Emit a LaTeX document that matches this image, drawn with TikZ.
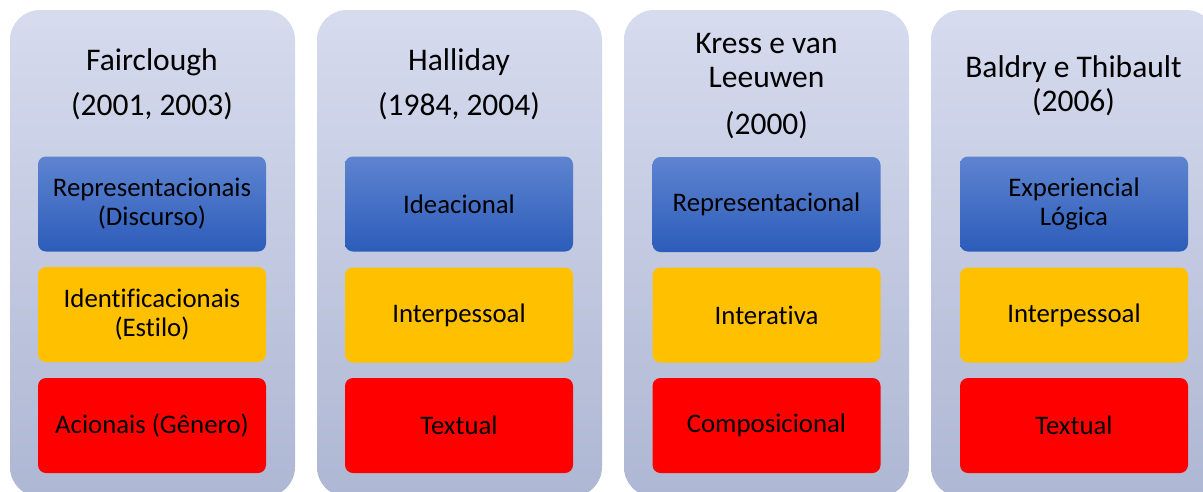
\documentclass[tikz,border=0pt]{standalone}
\usepackage{fontspec}
\setmainfont{Carlito}[Ligatures=NoCommon]
\definecolor{panelTop}{RGB}{214,219,238}
\definecolor{panelBot}{RGB}{174,183,211}
\definecolor{blueTop}{RGB}{94,132,208}
\definecolor{blueBot}{RGB}{44,92,186}
\definecolor{amber}{RGB}{255,192,0}
\definecolor{redbox}{RGB}{255,0,0}
\tikzset{
  panel/.style={rounded corners=30pt,top color=panelTop,bottom color=panelBot,
    minimum width=285pt,minimum height=487pt,inner sep=0pt},
  title/.style={anchor=base,inner sep=0pt,font=\fontsize{31.5}{34}\selectfont},
  layer/.style={rounded corners=8pt,minimum width=228pt,minimum height=95pt,
    inner sep=2pt,align=center,font=\fontsize{26.8}{29}\selectfont},
  ideal/.style={layer,top color=blueTop,bottom color=blueBot},
  inter/.style={layer,fill=amber},
  textl/.style={layer,fill=redbox}
}
\begin{document}
\begin{tikzpicture}[x=1pt,y=-1pt]
\useasboundingbox (0,0) rectangle (1203,491);
\begin{scope}
\clip (0,0) rectangle (1203,491);
\path
(152.5,253.5)  node[panel] (P1) {}
(459.5,253.5)  node[panel] (P2) {}
(766.5,253.5)  node[panel] (P3) {}
(1073.5,253.5) node[panel] (P4) {};
\end{scope}

% Fairclough
\path
(152,70)  node[title] (t1a) {Fairclough}
(152,115) node[title] (t1b) {(2001, 2003)}
(152,204)   node[ideal] (r1) {Representacionais\\(Discurso)}
(152,314.5) node[inter] (i1) {Identificacionais\\(Estilo)}
(152,425.5) node[textl] (a1) {Acionais (Gênero)};

% Halliday
\path
(459,70)  node[title] (t2a) {Halliday}
(459,115) node[title] (t2b) {(1984, 2004)}
(459,204)   node[ideal] (r2) {Ideacional}
(459,315) node[inter] (i2) {Interpessoal}
(459,425.5) node[textl] (a2) {Textual};

% Kress e van Leeuwen
\path
(766.5,53)  node[title] (t3a) {Kress e van}
(766.5,87)  node[title] (t3b) {Leeuwen}
(766.5,134) node[title] (t3c) {(2000)}
(766.5,204.5) node[ideal] (r3) {Representacional}
(766.5,315) node[inter] (i3) {Interativa}
(766.5,425.5) node[textl] (a3) {Composicional};

% Baldry e Thibault
\path
(1073.5,77)  node[title] (t4a) {Baldry e Thibault}
(1073.5,111) node[title] (t4b) {(2006)}
(1074,204)   node[ideal] (r4) {Experiencial\\Lógica}
(1074,315) node[inter] (i4) {Interpessoal}
(1074,425.5) node[textl] (a4) {Textual};
\end{tikzpicture}
\end{document}
